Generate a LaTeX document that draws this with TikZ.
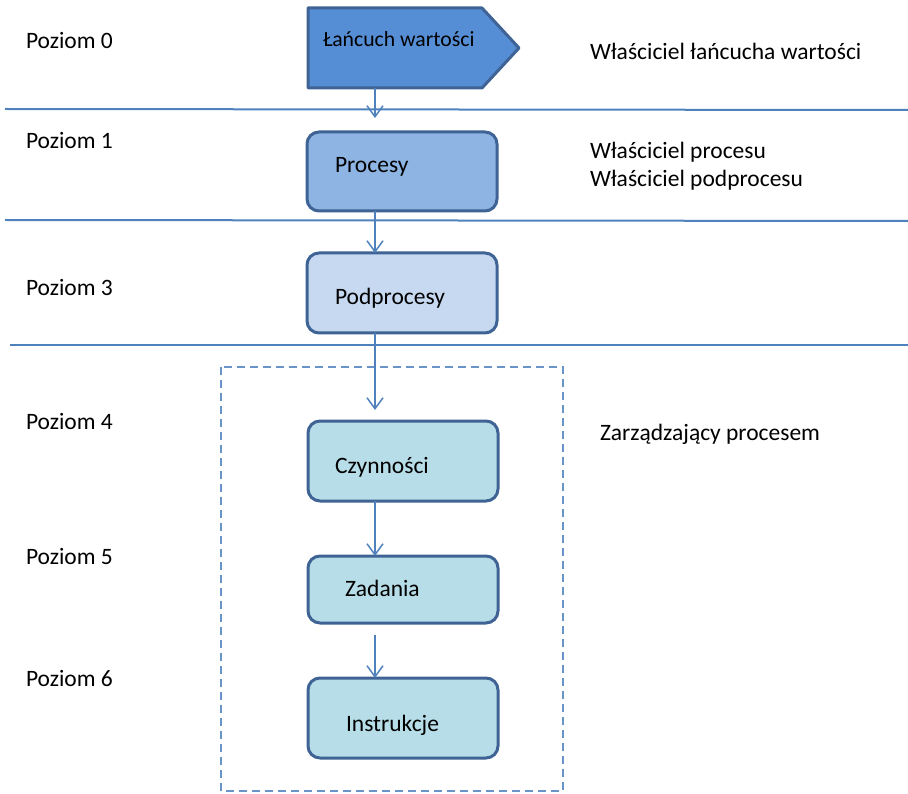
\documentclass[tikz,border=0pt]{standalone}
\usepackage{fontspec}
\setmainfont{Carlito}
\usetikzlibrary{arrows.meta}
\definecolor{linecol}{HTML}{4F81BD}
\definecolor{edgecol}{HTML}{3E6394}
\definecolor{chainfill}{HTML}{558ED5}
\definecolor{procfill}{HTML}{8EB4E3}
\definecolor{subfill}{HTML}{C6D9F1}
\definecolor{actfill}{HTML}{B7DEE8}
\tikzset{
  x=1pt, y=-1pt,
  every node/.style={inner sep=0pt, outer sep=0pt},
  txt/.style={anchor=base west, font=\fontsize{23.5}{28}\selectfont},
  intxt/.style={anchor=base west, font=\fontsize{21.7}{26}\selectfont},
  levelbox/.style={draw=edgecol, line width=3pt, rounded corners=12pt,
    minimum width=190pt, anchor=north west},
  sep/.style={draw=linecol, line width=2pt},
  flow/.style={draw=linecol, line width=1.5pt,
    -{Straight Barb[length=11pt,width=16pt,line width=1.5pt]}},
  frame/.style={draw=linecol!85, line width=2pt, dash pattern=on 8pt off 5pt}
}
\begin{document}
\begin{tikzpicture}
\useasboundingbox (0,0) rectangle (908,794);

% level separators
\draw[sep] (5,109) -- (908,110);
\draw[sep] (5,220) -- (908,221);
\draw[sep] (10,345) -- (908,345);

% dashed frame around the operational levels
\draw[frame] (221,367) rectangle (563,791);

% value chain arrow shape
\draw[fill=chainfill, draw=edgecol, line width=3pt, line join=round]
  (308,8) -- (482,8) -- (519,48) -- (482,88) -- (308,88) -- cycle;
\coordinate (chain) at (375,88);
\node[intxt] (chaintxt) at (323,47) {Łańcuch wartości};

% process boxes
\node[levelbox, fill=procfill, minimum height=79pt] (proc) at (307,132) {};
\node[levelbox, fill=subfill,  minimum height=80pt] (sub)  at (307,253) {};
\node[levelbox, fill=actfill,  minimum height=80pt] (act)  at (308,421) {};
\node[levelbox, fill=actfill,  minimum height=67pt] (task) at (308,556) {};
\node[levelbox, fill=actfill,  minimum height=80pt] (inst) at (308,678) {};

\node[txt] (proctxt) at (335,173) {Procesy};
\node[txt] (subtxt)  at (335,305) {Podprocesy};
\node[txt] (acttxt)  at (335,473) {Czynności};
\node[txt] (tasktxt) at (345,596) {Zadania};
\node[txt] (insttxt) at (346,731) {Instrukcje};

% flow between levels
\draw[flow, shorten >=14pt] (chain) -- (chain |- proc.north);
\draw[flow] (chain |- proc.south) -- (chain |- sub.north);
\draw[flow, shorten >=11pt] (chain |- sub.south) -- (chain |- act.north);
\draw[flow] (chain |- act.south) -- (chain |- task.north);
\draw[flow, shorten <=12pt] (chain |- task.south) -- (chain |- inst.north);

% level names
\node[txt] (l0) at (26,49)  {Poziom 0};
\node[txt] (l1) at (26,149) {Poziom 1};
\node[txt] (l3) at (26,296) {Poziom 3};
\node[txt] (l4) at (26,429) {Poziom 4};
\node[txt] (l5) at (26,564) {Poziom 5};
\node[txt] (l6) at (26,686) {Poziom 6};

% roles
\node[txt] (r0) at (590,60)  {Właściciel łańcucha wartości};
\node[txt] (r1) at (590,159) {Właściciel procesu};
\node[txt] (r2) at (590,187) {Właściciel podprocesu};
\node[txt] (r4) at (600,440) {Zarządzający procesem};
\end{tikzpicture}
\end{document}
